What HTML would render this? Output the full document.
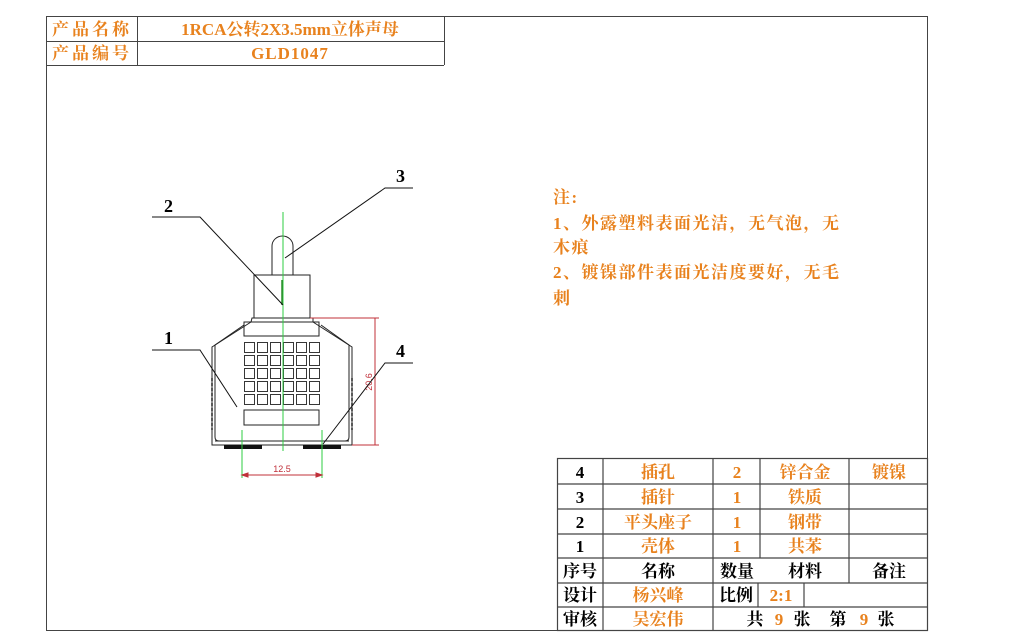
<!DOCTYPE html>
<html><head><meta charset="utf-8"><style>
html,body{margin:0;padding:0;background:#fff;}
svg{display:block;}
.o{fill:#e8821e;}
.k{fill:#000;}
text{font-family:"Liberation Serif","Noto Serif CJK SC",serif;font-weight:bold;}
</style></head><body>
<svg width="1023" height="643" viewBox="0 0 1023 643" xmlns="http://www.w3.org/2000/svg">
<g fill="none" stroke="#444" stroke-width="1">
<rect x="46.5" y="16.5" width="881" height="614"/>
<line x1="46" y1="41.5" x2="444" y2="41.5"/>
<line x1="46" y1="65.5" x2="444" y2="65.5"/>
<line x1="444.5" y1="16" x2="444.5" y2="65"/>
<line x1="137.5" y1="16" x2="137.5" y2="65"/>
</g>
<g font-size="17" text-anchor="middle">
<text x="92" y="35" class="o" letter-spacing="3">产品名称</text>
<text x="290" y="35" class="o">1RCA公转2X3.5mm立体声母</text>
<text x="92" y="59" class="o" letter-spacing="3">产品编号</text>
<text x="290" y="59" class="o" letter-spacing="1">GLD1047</text>
</g>
<!-- notes -->
<g font-size="17" class="o" letter-spacing="1.5">
<text x="553" y="203">注:</text>
<text x="553" y="229">1、外露塑料表面光洁，无气泡，无</text>
<text x="553" y="253">木痕</text>
<text x="553" y="278">2、镀镍部件表面光洁度要好，无毛</text>
<text x="553" y="304">刺</text>
</g>
<!-- bottom table -->
<g fill="none" stroke="#444" stroke-width="1.2">
<rect x="557.5" y="458.5" width="370" height="172"/>
<line x1="557" y1="484" x2="927" y2="484"/>
<line x1="557" y1="509" x2="927" y2="509"/>
<line x1="557" y1="534" x2="927" y2="534"/>
<line x1="557" y1="558" x2="927" y2="558"/>
<line x1="557" y1="583" x2="927" y2="583"/>
<line x1="557" y1="607" x2="927" y2="607"/>
<line x1="603" y1="458" x2="603" y2="631"/>
<line x1="713" y1="458" x2="713" y2="631"/>
<line x1="760" y1="458" x2="760" y2="558"/>
<line x1="758" y1="583" x2="758" y2="607"/>
<line x1="804" y1="583" x2="804" y2="607"/>
<line x1="849" y1="458" x2="849" y2="583"/>
</g>
<g font-size="17" text-anchor="middle">
<text x="580" y="478" class="k">4</text><text x="658" y="478" class="o">插孔</text><text x="737" y="478" class="o">2</text><text x="805" y="478" class="o">锌合金</text><text x="889" y="478" class="o">镀镍</text>
<text x="580" y="503" class="k">3</text><text x="658" y="503" class="o">插针</text><text x="737" y="503" class="o">1</text><text x="805" y="503" class="o">铁质</text>
<text x="580" y="528" class="k">2</text><text x="658" y="528" class="o">平头座子</text><text x="737" y="528" class="o">1</text><text x="805" y="528" class="o">钢带</text>
<text x="580" y="552" class="k">1</text><text x="658" y="552" class="o">壳体</text><text x="737" y="552" class="o">1</text><text x="805" y="552" class="o">共苯</text>
<text x="580" y="577" class="k">序号</text><text x="658" y="577" class="k">名称</text><text x="737" y="577" class="k">数量</text><text x="805" y="577" class="k">材料</text><text x="889" y="577" class="k">备注</text>
<text x="580" y="601" class="k">设计</text><text x="658" y="601" class="o">杨兴峰</text><text x="736" y="601" class="k">比例</text><text x="781" y="601" class="o">2:1</text>
<text x="580" y="625" class="k">审核</text><text x="658" y="625" class="o">吴宏伟</text>
<text x="755" y="625" class="k">共</text><text x="779" y="625" class="o">9</text><text x="802" y="625" class="k">张</text>
<text x="838" y="625" class="k">第</text><text x="864" y="625" class="o">9</text><text x="886" y="625" class="k">张</text>
</g>
<!-- drawing -->
<g fill="none" stroke="#222" stroke-width="1">
<path d="M272 275 V246 A10.5 10 0 0 1 293 246 V275"/>
<rect x="254" y="275" width="56" height="43"/>
<path d="M252 318 H313 L313 322 H251 Z"/>
<path d="M251 322 L212 347 V445 H352 V347 L313 322"/>
<path d="M244 325 L215 345 V437 Q215 441 219 441 H345 Q349 441 349 437 V345 L321 325"/>
<rect x="244" y="322" width="75" height="14"/>
<rect x="244" y="410" width="75" height="15"/>
<line x1="215" y1="441" x2="349" y2="441"/>
</g>
<g fill="none" stroke="#222" stroke-width="0.9">
<g id="row">
<rect x="244.5" y="342.5" width="10" height="10"/><rect x="257.5" y="342.5" width="10" height="10"/><rect x="270.5" y="342.5" width="10" height="10"/><rect x="283.5" y="342.5" width="10" height="10"/><rect x="296.5" y="342.5" width="10" height="10"/><rect x="309.5" y="342.5" width="10" height="10"/>
</g>
<use href="#row" y="13"/><use href="#row" y="26"/><use href="#row" y="39"/><use href="#row" y="52"/>
</g>
<path d="M212 378 V430 M352 378 V430" stroke="#222" stroke-width="1.5" stroke-dasharray="3 2"/>
<rect x="224" y="445" width="38" height="4" fill="#111"/>
<rect x="303" y="445" width="38" height="4" fill="#111"/>
<g stroke="#2ecc40" stroke-width="1">
<line x1="283" y1="212" x2="283" y2="451"/>
<line x1="242" y1="430" x2="242" y2="478"/>
<line x1="322" y1="430" x2="322" y2="478"/>
</g>
<line x1="282" y1="280" x2="282" y2="305" stroke="#2a8a2a" stroke-width="1.5"/>
<g stroke="#c0303a" stroke-width="1" fill="none">
<line x1="242" y1="475" x2="322" y2="475"/>
<path d="M242 475 l6 -2 v4z M322 475 l-6 -2 v4z" fill="#c0303a"/>
<line x1="310" y1="318" x2="379" y2="318"/>
<line x1="352" y1="445" x2="379" y2="445"/>
<line x1="375" y1="318" x2="375" y2="445"/>
</g>
<text x="282" y="472" font-size="9" fill="#c0303a" text-anchor="middle" style="font-family:'Liberation Sans',sans-serif;font-weight:normal">12.5</text>
<text transform="translate(372 382) rotate(-90)" font-size="9" fill="#c0303a" text-anchor="middle" style="font-family:'Liberation Sans',sans-serif;font-weight:normal">20.6</text>
<!-- leaders -->
<g stroke="#111" stroke-width="1" fill="none">
<path d="M413 188 H385 L285 258"/>
<path d="M152 217 H200 L283 305"/>
<path d="M152 350 H200 L237 407"/>
<path d="M413 363 H385 L323 444"/>
</g>
<g font-size="18" class="k">
<text x="396" y="182">3</text>
<text x="164" y="212">2</text>
<text x="164" y="344">1</text>
<text x="396" y="357">4</text>
</g>
</svg>
</body></html>
